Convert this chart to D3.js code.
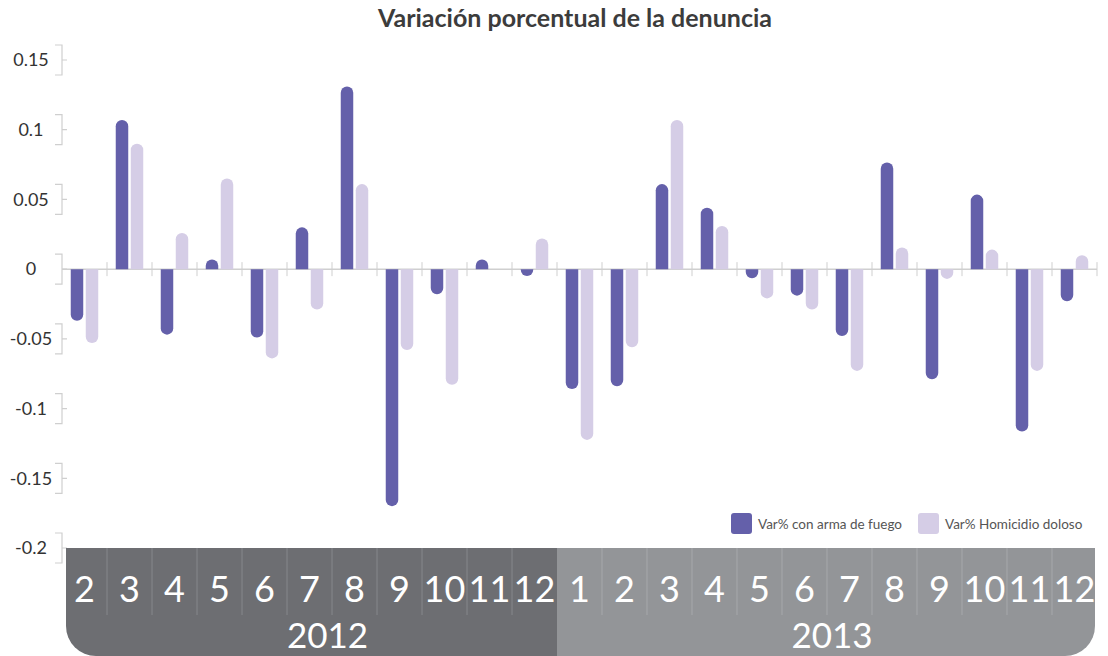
<!DOCTYPE html>
<html>
<head>
<meta charset="utf-8">
<script src="https://cdn.jsdelivr.net/npm/d3@7/dist/d3.min.js"></script>
<style>
  body { margin: 0; background: #fff; }
  text { font-family: Lato, "Open Sans", "DejaVu Sans", sans-serif; }
</style>
</head>
<body>
<div id="chart-area"></div>
<script>
// datos
var months = ["2","3","4","5","6","7","8","9","10","11","12",
              "1","2","3","4","5","6","7","8","9","10","11","12"];
var years = ["2012","2012","2012","2012","2012","2012","2012","2012","2012","2012","2012",
             "2013","2013","2013","2013","2013","2013","2013","2013","2013","2013","2013","2013"];
var yearNames = ["2012", "2013"];
var varArma = [-0.037, 0.107, -0.047, 0.007, -0.049, 0.030, 0.131, -0.170, -0.018, 0.007, -0.005,
               -0.086, -0.084, 0.061, 0.044, -0.0065, -0.019, -0.048, 0.0765, -0.079, 0.0535, -0.1165, -0.023];
var varHomicidio = [-0.053, 0.090, 0.026, 0.065, -0.064, -0.029, 0.061, -0.058, -0.083, 0, 0.022,
                    -0.1225, -0.056, 0.107, 0.031, -0.021, -0.029, -0.073, 0.0155, -0.007, 0.014, -0.073, 0.010];
var seriesNames = ["Var% con arma de fuego", "Var% Homicidio doloso"];
var yTicks = [0.15, 0.1, 0.05, 0, -0.05, -0.1, -0.15, -0.2];
var tickLabels = ["0.15", "0.1", "0.05", "0", "-0.05", "-0.1", "-0.15", "-0.2"];

var W = 1108, H = 656;
var colors = ["#6460aa", "#d5cde6"];
var bandColors = { "2012": "#6d6e72", "2013": "#939598" };

var svg = d3.select("#chart-area").append("svg")
    .attr("width", W).attr("height", H);

var keys = months.map(function(m, i) { return years[i] + "-" + m; });

var x = d3.scaleBand().domain(keys).range([62, 1097]);
var xs = d3.scaleBand().domain([0, 1]).range([0, x.bandwidth()])
    .paddingInner(1 / 6).paddingOuter(0.5833);
var y = d3.scaleLinear().domain([-0.2, 0.15]).range([548, 60]);
var y0 = y(0);

// titulo
svg.append("text")
    .attr("x", 575).attr("y", 27)
    .attr("text-anchor", "middle")
    .style("font-size", "25px").style("font-weight", "bold")
    .attr("fill", "#3c3c3c")
    .text("Variación porcentual de la denuncia");

// eje y con corchetes
var axisCol = "#cfcfcf";
var yAx = svg.append("g").attr("class", "y axis");
yTicks.forEach(function(t, i) {
    var ty = y(t);
    yAx.append("path")
        .attr("d", "M55," + (ty - 15) + "H62V" + (ty + 15) + "H55M62," + ty + "H67")
        .attr("fill", "none").attr("stroke", axisCol).attr("stroke-width", 1.2);
    yAx.append("text")
        .attr("x", 31).attr("y", ty).attr("dy", "0.35em")
        .attr("text-anchor", "middle")
        .style("font-size", "18px").attr("fill", "#333")
        .text(tickLabels[i]);
});

// linea cero
svg.append("line")
    .attr("x1", 62).attr("x2", 1097).attr("y1", y0).attr("y2", y0)
    .attr("stroke", axisCol).attr("stroke-width", 1.5);
var bounds = keys.map(function(k) { return x(k); }).slice(1).concat([x.range()[1]]);
svg.selectAll(".ztick").data(bounds).enter().append("line")
    .attr("class", "ztick")
    .attr("x1", function(d) { return d; }).attr("x2", function(d) { return d; })
    .attr("y1", y0 - 7).attr("y2", y0 + 7)
    .attr("stroke", axisCol).attr("stroke-width", 1);

// barras con punta redondeada
function barPath(bx, w, v) {
    var ty = y(v), h = Math.abs(ty - y0), r = w / 2, ry = Math.min(r, h);
    if (v >= 0) {
        return "M" + bx + "," + y0 + "V" + (ty + ry) + "A" + r + "," + ry + " 0 0 1 " + (bx + w) + "," + (ty + ry) + "V" + y0 + "Z";
    }
    return "M" + bx + "," + y0 + "V" + (ty - ry) + "A" + r + "," + ry + " 0 0 0 " + (bx + w) + "," + (ty - ry) + "V" + y0 + "Z";
}

var series = [varArma, varHomicidio];
series.forEach(function(vals, s) {
    svg.append("g").selectAll("path")
        .data(vals.map(function(v, i) { return { key: keys[i], v: v }; })
            .filter(function(d) { return d.v !== 0; }))
        .enter().append("path")
        .attr("d", function(d) { return barPath(x(d.key) + xs(s), xs.bandwidth(), d.v); })
        .attr("fill", colors[s]);
});

// leyenda
var legend = svg.append("g").attr("class", "legend");
var legX = [731, 918];
seriesNames.forEach(function(name, i) {
    legend.append("rect")
        .attr("x", legX[i]).attr("y", 513).attr("width", 21).attr("height", 21)
        .attr("rx", 3).attr("fill", colors[i]);
    legend.append("text")
        .attr("x", legX[i] + 27).attr("y", 524).attr("dy", "0.35em")
        .style("font-size", "13.5px").attr("fill", "#555")
        .text(name);
});

// banda inferior de meses y años
var bandTop = 548, bandBot = 656, rad = 30;
yearNames.forEach(function(yr, j) {
    var ks = keys.filter(function(k, i) { return years[i] === yr; });
    var x1 = j === 0 ? 66 : x(ks[0]);
    var x2 = j === 0 ? x(ks[ks.length - 1]) + x.bandwidth() : 1095;
    var d;
    if (j === 0) {
        d = "M" + x1 + "," + bandTop + "H" + x2 + "V" + bandBot + "H" + (x1 + rad) +
            "A" + rad + "," + rad + " 0 0 1 " + x1 + "," + (bandBot - rad) + "Z";
    } else {
        d = "M" + x1 + "," + bandTop + "H" + x2 + "V" + (bandBot - rad) +
            "A" + rad + "," + rad + " 0 0 1 " + (x2 - rad) + "," + bandBot + "H" + x1 + "Z";
    }
    svg.append("path").attr("d", d).attr("fill", bandColors[yr]);

    // separadores
    svg.append("g").selectAll("line").data(ks.slice(1)).enter().append("line")
        .attr("x1", function(k) { return x(k); }).attr("x2", function(k) { return x(k); })
        .attr("y1", bandTop).attr("y2", 615)
        .attr("stroke", j === 0 ? "#86878b" : "#a6a8ab").attr("stroke-width", 1);

    // año
    svg.append("text")
        .attr("x", (x1 + x2) / 2 + (j === 0 ? 16 : 6)).attr("y", 648)
        .attr("text-anchor", "middle")
        .style("font-size", "35px").style("font-weight", 400)
        .attr("fill", "#fff")
        .text(yr);
});

// etiquetas de meses
svg.append("g").selectAll("text").data(keys).enter().append("text")
    .attr("x", function(k) { return x(k) + x.bandwidth() / 2; })
    .attr("y", 602)
    .attr("text-anchor", "middle")
    .style("font-size", "36px").style("font-weight", 400)
    .attr("fill", "#fff")
    .text(function(k, i) { return months[i]; });
</script>
</body>
</html>
